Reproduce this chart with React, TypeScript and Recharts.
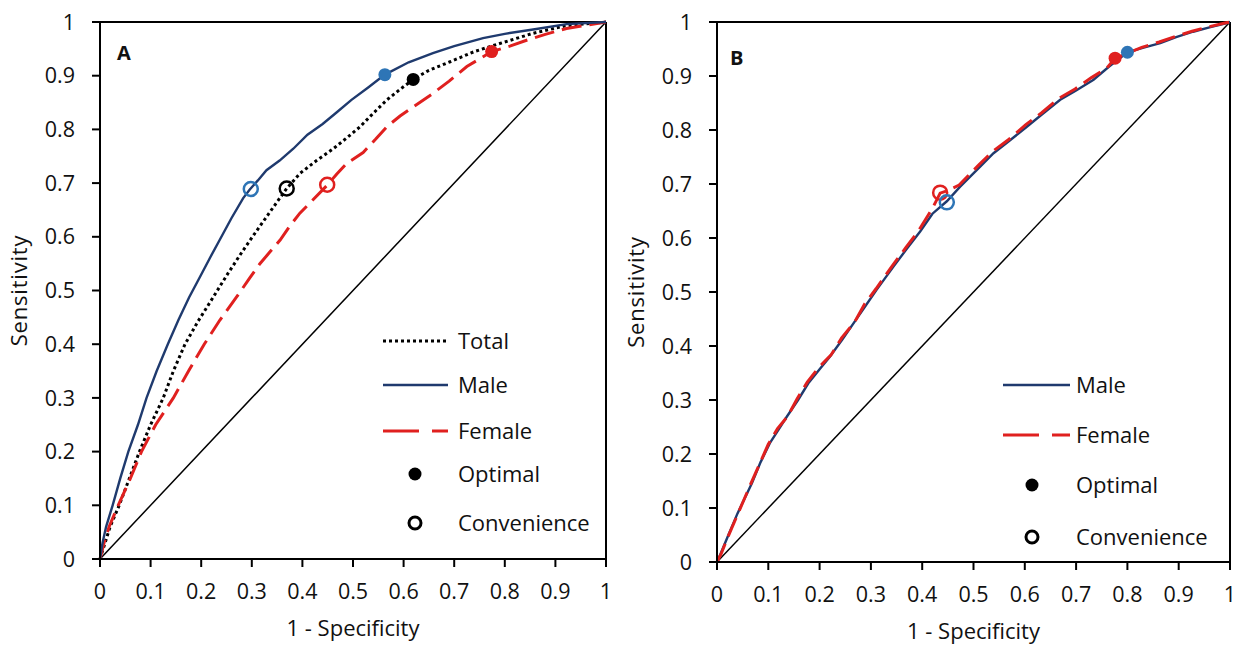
import React from 'react';
import {
  ComposedChart,
  Line,
  Scatter,
  XAxis,
  YAxis,
  ReferenceLine,
  Legend,
  Customized,
} from 'recharts';

type Pt = { x: number; y: number };

const TICKS = [0, 0.1, 0.2, 0.3, 0.4, 0.5, 0.6, 0.7, 0.8, 0.9, 1];
const DIAG: Pt[] = [{ x: 0, y: 0 }, { x: 1, y: 1 }];

// Panel A
const MALE_A: Pt[] = [
  { x: 0, y: 0 }, { x: 0.005, y: 0.03 }, { x: 0.012, y: 0.06 }, { x: 0.025, y: 0.1 },
  { x: 0.04, y: 0.15 }, { x: 0.056, y: 0.2 }, { x: 0.075, y: 0.25 }, { x: 0.092, y: 0.3 },
  { x: 0.112, y: 0.35 }, { x: 0.134, y: 0.4 }, { x: 0.155, y: 0.445 }, { x: 0.176, y: 0.487 },
  { x: 0.198, y: 0.526 }, { x: 0.218, y: 0.562 }, { x: 0.237, y: 0.595 }, { x: 0.26, y: 0.635 },
  { x: 0.283, y: 0.672 }, { x: 0.296, y: 0.688 }, { x: 0.312, y: 0.705 }, { x: 0.329, y: 0.724 },
  { x: 0.355, y: 0.742 }, { x: 0.382, y: 0.764 }, { x: 0.41, y: 0.79 }, { x: 0.44, y: 0.81 },
  { x: 0.468, y: 0.832 }, { x: 0.497, y: 0.855 }, { x: 0.53, y: 0.878 }, { x: 0.563, y: 0.902 },
  { x: 0.61, y: 0.925 }, { x: 0.658, y: 0.942 }, { x: 0.7, y: 0.955 }, { x: 0.757, y: 0.97 },
  { x: 0.8, y: 0.978 }, { x: 0.856, y: 0.986 }, { x: 0.922, y: 0.996 }, { x: 1, y: 1 },
];
const TOTAL_A: Pt[] = [
  { x: 0, y: 0 }, { x: 0.01, y: 0.03 }, { x: 0.02, y: 0.06 }, { x: 0.038, y: 0.1 },
  { x: 0.058, y: 0.15 }, { x: 0.078, y: 0.2 }, { x: 0.1, y: 0.25 }, { x: 0.125, y: 0.3 },
  { x: 0.145, y: 0.35 }, { x: 0.168, y: 0.4 }, { x: 0.194, y: 0.443 }, { x: 0.224, y: 0.488 },
  { x: 0.253, y: 0.532 }, { x: 0.283, y: 0.575 }, { x: 0.305, y: 0.605 }, { x: 0.329, y: 0.637 },
  { x: 0.35, y: 0.665 }, { x: 0.369, y: 0.69 }, { x: 0.395, y: 0.718 }, { x: 0.428, y: 0.742 },
  { x: 0.461, y: 0.764 }, { x: 0.49, y: 0.786 }, { x: 0.514, y: 0.805 }, { x: 0.54, y: 0.83 },
  { x: 0.567, y: 0.855 }, { x: 0.595, y: 0.876 }, { x: 0.619, y: 0.893 }, { x: 0.65, y: 0.91 },
  { x: 0.692, y: 0.926 }, { x: 0.74, y: 0.945 }, { x: 0.79, y: 0.96 }, { x: 0.856, y: 0.979 },
  { x: 0.92, y: 0.993 }, { x: 1, y: 1 },
];
const FEMALE_A: Pt[] = [
  { x: 0, y: 0 }, { x: 0.008, y: 0.03 }, { x: 0.018, y: 0.06 }, { x: 0.036, y: 0.1 },
  { x: 0.06, y: 0.15 }, { x: 0.082, y: 0.2 }, { x: 0.11, y: 0.25 }, { x: 0.145, y: 0.3 },
  { x: 0.175, y: 0.35 }, { x: 0.206, y: 0.4 }, { x: 0.237, y: 0.445 }, { x: 0.27, y: 0.488 },
  { x: 0.295, y: 0.522 }, { x: 0.316, y: 0.55 }, { x: 0.336, y: 0.572 }, { x: 0.356, y: 0.594 },
  { x: 0.375, y: 0.62 }, { x: 0.395, y: 0.644 }, { x: 0.42, y: 0.668 }, { x: 0.448, y: 0.695 },
  { x: 0.468, y: 0.717 }, { x: 0.488, y: 0.737 }, { x: 0.52, y: 0.757 }, { x: 0.545, y: 0.782 },
  { x: 0.567, y: 0.805 }, { x: 0.593, y: 0.825 }, { x: 0.619, y: 0.842 }, { x: 0.658, y: 0.867 },
  { x: 0.69, y: 0.89 }, { x: 0.725, y: 0.917 }, { x: 0.774, y: 0.945 }, { x: 0.81, y: 0.955 },
  { x: 0.843, y: 0.966 }, { x: 0.88, y: 0.977 }, { x: 0.922, y: 0.988 }, { x: 1, y: 1 },
];
const OPT_MALE_A: Pt[] = [{ x: 0.563, y: 0.902 }];
const OPT_TOTAL_A: Pt[] = [{ x: 0.619, y: 0.893 }];
const OPT_FEMALE_A: Pt[] = [{ x: 0.774, y: 0.945 }];
const CONV_MALE_A: Pt[] = [{ x: 0.298, y: 0.689 }];
const CONV_TOTAL_A: Pt[] = [{ x: 0.369, y: 0.69 }];
const CONV_FEMALE_A: Pt[] = [{ x: 0.449, y: 0.697 }];

// Panel B
const MALE_B: Pt[] = [
  { x: 0, y: 0 }, { x: 0.006, y: 0.013 }, { x: 0.02, y: 0.045 }, { x: 0.04, y: 0.09 },
  { x: 0.068, y: 0.146 }, { x: 0.085, y: 0.185 }, { x: 0.103, y: 0.22 }, { x: 0.12, y: 0.245 },
  { x: 0.136, y: 0.269 }, { x: 0.158, y: 0.3 }, { x: 0.178, y: 0.331 }, { x: 0.2, y: 0.357 },
  { x: 0.22, y: 0.38 }, { x: 0.245, y: 0.413 }, { x: 0.266, y: 0.442 }, { x: 0.29, y: 0.475 },
  { x: 0.311, y: 0.504 }, { x: 0.344, y: 0.547 }, { x: 0.37, y: 0.58 }, { x: 0.396, y: 0.612 },
  { x: 0.42, y: 0.645 }, { x: 0.448, y: 0.668 }, { x: 0.474, y: 0.695 }, { x: 0.513, y: 0.732 },
  { x: 0.539, y: 0.757 }, { x: 0.57, y: 0.78 }, { x: 0.604, y: 0.806 }, { x: 0.635, y: 0.83 },
  { x: 0.669, y: 0.856 }, { x: 0.7, y: 0.873 }, { x: 0.734, y: 0.893 }, { x: 0.765, y: 0.918 },
  { x: 0.8, y: 0.944 }, { x: 0.83, y: 0.952 }, { x: 0.864, y: 0.961 }, { x: 0.895, y: 0.972 },
  { x: 0.928, y: 0.982 }, { x: 0.96, y: 0.99 }, { x: 0.994, y: 0.998 }, { x: 1, y: 1 },
];
const FEMALE_B: Pt[] = [
  { x: 0, y: 0 }, { x: 0.008, y: 0.015 }, { x: 0.022, y: 0.048 }, { x: 0.042, y: 0.092 },
  { x: 0.066, y: 0.145 }, { x: 0.086, y: 0.188 }, { x: 0.1, y: 0.218 }, { x: 0.118, y: 0.247 },
  { x: 0.138, y: 0.27 }, { x: 0.156, y: 0.302 }, { x: 0.176, y: 0.333 }, { x: 0.198, y: 0.36 },
  { x: 0.222, y: 0.383 }, { x: 0.243, y: 0.415 }, { x: 0.268, y: 0.444 }, { x: 0.288, y: 0.478 },
  { x: 0.31, y: 0.506 }, { x: 0.342, y: 0.549 }, { x: 0.368, y: 0.582 }, { x: 0.394, y: 0.615 },
  { x: 0.42, y: 0.655 }, { x: 0.435, y: 0.683 }, { x: 0.45, y: 0.688 }, { x: 0.472, y: 0.698 },
  { x: 0.51, y: 0.735 }, { x: 0.537, y: 0.76 }, { x: 0.568, y: 0.782 }, { x: 0.602, y: 0.81 },
  { x: 0.633, y: 0.832 }, { x: 0.667, y: 0.859 }, { x: 0.698, y: 0.876 }, { x: 0.73, y: 0.897 },
  { x: 0.76, y: 0.915 }, { x: 0.776, y: 0.933 }, { x: 0.8, y: 0.942 }, { x: 0.828, y: 0.953 },
  { x: 0.862, y: 0.963 }, { x: 0.893, y: 0.973 }, { x: 0.926, y: 0.983 }, { x: 0.958, y: 0.991 },
  { x: 0.99, y: 0.998 }, { x: 1, y: 1 },
];
const OPT_MALE_B: Pt[] = [{ x: 0.8, y: 0.944 }];
const OPT_FEMALE_B: Pt[] = [{ x: 0.776, y: 0.933 }];
const CONV_MALE_B: Pt[] = [{ x: 0.448, y: 0.666 }];
const CONV_FEMALE_B: Pt[] = [{ x: 0.435, y: 0.684 }];

const NAVY = '#1f3a6e';
const BLUE = '#2e75b6';
const RED = '#e0201f';
const INK = '#111';
const FONT = "'Open Sans', sans-serif";

const dot = (color: string) => (p: any) => <circle cx={p.cx} cy={p.cy} r={6.5} fill={color} />;
const ring = (color: string) => (p: any) => (
  <circle cx={p.cx} cy={p.cy} r={7} fill="none" stroke={color} strokeWidth={2.5} />
);

type LegendItem = { kind: 'dotted' | 'solid' | 'dashed' | 'dot' | 'ring'; label: string };

const LEGEND_A: LegendItem[] = [
  { kind: 'dotted', label: 'Total' },
  { kind: 'solid', label: 'Male' },
  { kind: 'dashed', label: 'Female' },
  { kind: 'dot', label: 'Optimal' },
  { kind: 'ring', label: 'Convenience' },
];
const LEGEND_B: LegendItem[] = LEGEND_A.slice(1);

function LegendBox({ items, rows, lineEnd, markX, textX }: { items: LegendItem[]; rows: number[]; lineEnd: number; markX: number; textX: number }) {
  return (
    <svg width={260} height={240} style={{ display: 'block', fontFamily: FONT }}>
      {items.map((it, i) => {
        const y = rows[i];
        let sample: React.ReactNode = null;
        if (it.kind === 'dotted') sample = <line x1={8} x2={lineEnd} y1={y} y2={y} stroke="#000" strokeWidth={3} strokeDasharray="3 3" />;
        if (it.kind === 'solid') sample = <line x1={8} x2={lineEnd} y1={y} y2={y} stroke={NAVY} strokeWidth={2.5} />;
        if (it.kind === 'dashed') sample = <line x1={8} x2={lineEnd} y1={y} y2={y} stroke={RED} strokeWidth={3} strokeDasharray="36 13" />;
        if (it.kind === 'dot') sample = <circle cx={markX} cy={y} r={6.5} fill="#000" />;
        if (it.kind === 'ring') sample = <circle cx={markX} cy={y} r={6} fill="none" stroke="#000" strokeWidth={3} />;
        return (
          <g key={it.label}>
            {sample}
            <text x={textX} y={y} dy="0.36em" fontSize={22} fill={INK}>{it.label}</text>
          </g>
        );
      })}
    </svg>
  );
}

type PanelProps = {
  letter: string;
  letterPos: [number, number];
  width: number;
  rightMargin: number;
  xAxisHeight: number;
  lines: { data: Pt[]; kind: 'dotted' | 'solid' | 'dashed' }[];
  optimal: { data: Pt[]; color: string }[];
  convenience: { data: Pt[]; color: string }[];
  legend: React.ReactNode;
  legendPos: { left: number; top: number };
};

function RocPanel(props: PanelProps) {
  const axisStroke = { stroke: '#000', strokeWidth: 2 };
  return (
    <ComposedChart
      width={props.width}
      height={645}
      margin={{ top: 22, right: props.rightMargin, bottom: 0, left: 0 }}
    >
      <XAxis
        type="number"
        dataKey="x"
        domain={[0, 1]}
        ticks={TICKS}
        interval={0}
        tickFormatter={(v: number) => String(v)}
        height={props.xAxisHeight}
        tickSize={8}
        tickMargin={17}
        axisLine={axisStroke}
        tickLine={axisStroke}
        tick={{ fill: INK, fontSize: 21.5 }}
        label={{
          content: ({ viewBox }: any) => (
            <text x={viewBox.x + viewBox.width / 2} y={viewBox.y + 77} textAnchor="middle" fontSize={22} fill={INK}>
              1 - Specificity
            </text>
          ),
        }}
      />
      <YAxis
        type="number"
        dataKey="y"
        domain={[0, 1]}
        ticks={TICKS}
        interval={0}
        tickFormatter={(v: number) => String(v)}
        width={100}
        tickSize={8}
        tickMargin={17}
        axisLine={axisStroke}
        tickLine={axisStroke}
        tick={{ fill: INK, fontSize: 21.5 }}
        label={{
          content: ({ viewBox }: any) => {
            const cx = viewBox.x + 27;
            const cy = viewBox.y + viewBox.height / 2;
            return (
              <text x={cx} y={cy} transform={`rotate(-90 ${cx} ${cy})`} textAnchor="middle" fontSize={22} letterSpacing={0.8} fill={INK}>
                Sensitivity
              </text>
            );
          },
        }}
      />
      <ReferenceLine y={1} stroke="#000" strokeWidth={2} />
      <ReferenceLine x={1} stroke="#000" strokeWidth={2} />
      <Line data={DIAG} dataKey="y" type="linear" stroke="#000" strokeWidth={1.5} dot={false} activeDot={false} isAnimationActive={false} />
      {props.lines.map((l, i) => (
        <Line
          key={i}
          data={l.data}
          dataKey="y"
          type="linear"
          stroke={l.kind === 'dotted' ? '#000' : l.kind === 'solid' ? NAVY : RED}
          strokeWidth={l.kind === 'solid' ? 2.4 : 3}
          strokeDasharray={l.kind === 'dotted' ? '3 3' : l.kind === 'dashed' ? '20 8' : undefined}
          dot={false}
          activeDot={false}
          isAnimationActive={false}
        />
      ))}
      {props.optimal.map((o, i) => (
        <Scatter key={'o' + i} data={o.data} dataKey="y" shape={dot(o.color)} isAnimationActive={false} />
      ))}
      {props.convenience.map((c, i) => (
        <Scatter key={'c' + i} data={c.data} dataKey="y" shape={ring(c.color)} isAnimationActive={false} />
      ))}
      <Legend
        layout="horizontal"
        verticalAlign="middle"
        align="center"
        wrapperStyle={{ left: props.legendPos.left, top: props.legendPos.top, width: 260, height: 240 }}
        content={() => props.legend}
      />
      <Customized
        component={() => (
          <text x={props.letterPos[0]} y={props.letterPos[1]} fontSize={20} fontWeight="bold" fill={INK}>
            {props.letter}
          </text>
        )}
      />
    </ComposedChart>
  );
}

export default function App() {
  return (
    <div style={{ position: 'absolute', left: 0, top: 0, width: 1246, height: 645, background: '#fff', fontFamily: FONT }}>
      <div style={{ position: 'absolute', left: 0, top: 0 }}>
        <RocPanel
          letter="A"
          letterPos={[117, 60]}
          width={620}
          rightMargin={14}
          xAxisHeight={86}
          lines={[
            { data: TOTAL_A, kind: 'dotted' },
            { data: FEMALE_A, kind: 'dashed' },
            { data: MALE_A, kind: 'solid' },
          ]}
          optimal={[
            { data: OPT_MALE_A, color: BLUE },
            { data: OPT_TOTAL_A, color: '#000' },
            { data: OPT_FEMALE_A, color: RED },
          ]}
          convenience={[
            { data: CONV_MALE_A, color: BLUE },
            { data: CONV_TOTAL_A, color: '#000' },
            { data: CONV_FEMALE_A, color: RED },
          ]}
          legendPos={{ left: 375, top: 320 }}
          legend={<LegendBox items={LEGEND_A} rows={[21, 65, 111, 154, 203]} lineEnd={73} markX={40} textX={83} />}
        />
      </div>
      <div style={{ position: 'absolute', left: 617, top: 0 }}>
        <RocPanel
          letter="B"
          letterPos={[113, 65]}
          width={629}
          rightMargin={16}
          xAxisHeight={83}
          lines={[
            { data: MALE_B, kind: 'solid' },
            { data: FEMALE_B, kind: 'dashed' },
          ]}
          optimal={[
            { data: OPT_FEMALE_B, color: RED },
            { data: OPT_MALE_B, color: BLUE },
          ]}
          convenience={[
            { data: CONV_FEMALE_B, color: RED },
            { data: CONV_MALE_B, color: BLUE },
          ]}
          legendPos={{ left: 378, top: 365 }}
          legend={<LegendBox items={LEGEND_B} rows={[20, 70, 120, 172]} lineEnd={75} markX={37} textX={81} />}
        />
      </div>
    </div>
  );
}
